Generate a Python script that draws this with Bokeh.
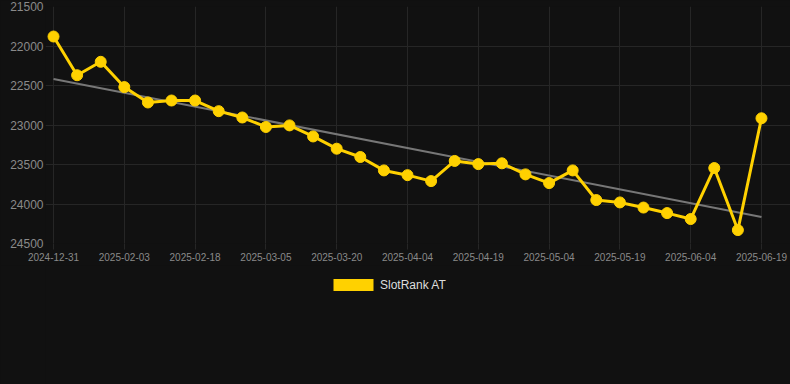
import numpy as np
from bokeh.plotting import figure
from bokeh.layouts import column
from bokeh.models import (ColumnDataSource, Range1d, FixedTicker, Legend, LegendItem,
                          GlobalInlineStyleSheet)
from bokeh.embed import file_html
from bokeh.resources import INLINE

# ---- data ----
dates = ["2024-12-31", "2025-01-24", "2025-01-29", "2025-02-03", "2025-02-08", "2025-02-13",
         "2025-02-18", "2025-02-23", "2025-02-28", "2025-03-05", "2025-03-10", "2025-03-15",
         "2025-03-20", "2025-03-25", "2025-03-30", "2025-04-04", "2025-04-09", "2025-04-14",
         "2025-04-19", "2025-04-24", "2025-04-29", "2025-05-04", "2025-05-09", "2025-05-14",
         "2025-05-19", "2025-05-24", "2025-05-29", "2025-06-04", "2025-06-09", "2025-06-14",
         "2025-06-19"]
rank = [21880, 22370, 22200, 22520, 22715, 22690, 22690, 22825, 22905, 23025, 23005, 23145,
        23300, 23405, 23575, 23635, 23710, 23455, 23495, 23485, 23625, 23735, 23575, 23950,
        23980, 24045, 24115, 24190, 23545, 24330, 22915]
y_ticks = [21500, 22000, 22500, 23000, 23500, 24000, 24500]
series_name = "SlotRank AT"

BG = "#111111"
YELLOW = "#FFD100"
GRID = "#262626"

idx = list(range(len(dates)))
slope, intercept = np.polyfit(idx, rank, 1)
trend_x = [idx[0], idx[-1]]
trend_y = [intercept + slope * idx[0], intercept + slope * idx[-1]]

src = ColumnDataSource(dict(x=idx, y=rank, date=dates))

p = figure(width=790, height=265, output_backend="svg", toolbar_location=None,
           x_range=Range1d(-0.34, 31.23), y_range=Range1d(24500, 21500),
           background_fill_color=BG, border_fill_color=BG, outline_line_color=None,
           min_border_left=45, min_border_right=0, min_border_top=6, min_border_bottom=22)
p.stylesheets = [GlobalInlineStyleSheet(css="body { background-color: #111111; }")]

# axes
label_ticks = list(range(0, len(dates), 3))
p.xaxis.ticker = FixedTicker(ticks=label_ticks)
p.xaxis.major_label_overrides = {i: dates[i] for i in label_ticks}
p.yaxis.ticker = FixedTicker(ticks=y_ticks)
p.yaxis.major_label_overrides = {v: str(v) for v in y_ticks}

for ax in (p.xaxis, p.yaxis):
    ax.axis_line_color = None
    ax.minor_tick_line_color = None
    ax.major_label_text_color = "#8a8a8a"
    ax.major_label_text_font = "Liberation Sans"
p.xaxis.major_label_text_font_size = "10px"
p.xaxis.major_tick_line_color = GRID
p.xaxis.major_tick_out = 6
p.xaxis.major_tick_in = 0
p.xaxis.major_label_standoff = 3
p.yaxis.major_label_text_font_size = "12px"
p.yaxis.major_tick_line_color = None
p.yaxis.major_tick_out = 0
p.yaxis.major_tick_in = 0
p.yaxis.major_label_standoff = 2

p.xgrid.grid_line_color = GRID
p.ygrid.grid_line_color = GRID

# trend
p.line(trend_x, trend_y, line_color="#777777", line_width=2)
# series
p.line("x", "y", source=src, line_color=YELLOW, line_width=3)
p.scatter("x", "y", source=src, size=11, fill_color=YELLOW, line_color=YELLOW)

# legend strip below the chart (no axes, frame = whole strip)
leg = figure(width=790, height=119, output_backend="svg", toolbar_location=None,
             x_axis_location=None, y_axis_location=None,
             background_fill_color=BG, border_fill_color=BG, outline_line_color=None,
             min_border=0, x_range=Range1d(0, 1), y_range=Range1d(0, 1))
leg.grid.visible = False
# legend proxy: zero-size boxes from the series, all outside this strip's ranges
swatch = leg.quad(left="x", right="x", top="y", bottom="y", source=src,
                  fill_color=YELLOW, line_color=None)
legend = Legend(items=[LegendItem(label=series_name, renderers=[swatch])],
                orientation="horizontal", location=(283, 92),
                glyph_width=50, glyph_height=15, label_standoff=2,
                label_text_font="Liberation Sans", label_text_font_size="12px",
                label_text_color="#dddddd", background_fill_alpha=0,
                border_line_color=None, padding=0, margin=0, spacing=0)
leg.add_layout(legend)

layout = column(p, leg, spacing=0)
open("out.html", "w").write(file_html(layout, INLINE))
